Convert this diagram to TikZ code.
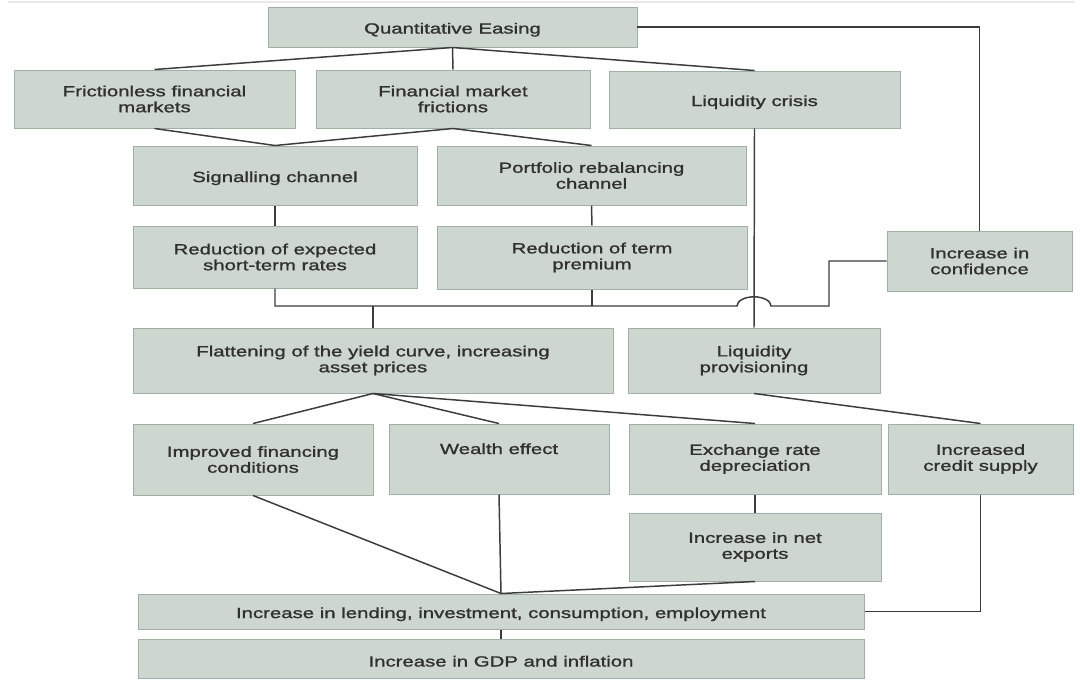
\documentclass[tikz,border=0pt]{standalone}
\usepackage{fontspec}
\setmainfont{Liberation Sans}[FakeStretch=1.38, FakeBold=1.2]
\definecolor{boxfill}{RGB}{205,214,207}
\definecolor{boxline}{RGB}{160,176,165}
\definecolor{wirecol}{RGB}{60,60,60}
\definecolor{txt}{RGB}{48,48,48}
\begin{document}
\begin{tikzpicture}[x=0.025cm, y=-0.025cm,
    qbox/.style 2 args={draw=boxline, fill=boxfill, line width=0.7pt, inner sep=0pt,
        minimum width=#1*0.025cm, minimum height=#2*0.025cm, align=center,
        text=txt, font=\fontsize{10.5}{11.3}\selectfont,
        execute at begin node={\rule{0pt}{11.5pt}}},
    wire/.style={draw=wirecol, line width=1.05pt}]
        \useasboundingbox (0,0) rectangle (1080,687);
        \draw[gray!18, line width=1.5pt] (8,2) -- (1075,2);

        \node[qbox={369}{40}] (qe) at (452.5,27) {Quantitative Easing};
        \node[qbox={281}{58}] (fric) at (154.5,99) {Frictionless financial\\markets};
        \node[qbox={274}{58}] (fmf) at (453,99) {Financial market\\frictions};
        \node[qbox={291}{57}] (liq) at (754.5,99.5) {Liquidity crisis};
        \node[qbox={284}{59}] (sig) at (275,175.5) {Signalling channel};
        \node[qbox={309}{59}] (port) at (591.5,175.5) {Portfolio rebalancing\\channel};
        \node[qbox={284}{62}] (rexp) at (275,257) {Reduction of expected\\short-term rates};
        \node[qbox={310}{63}] (rterm) at (592,257.5) {Reduction of term\\premium};
        \node[qbox={185}{60}] (conf) at (979.5,261) {Increase in\\confidence};
        \node[qbox={480}{65}] (flat) at (373,360.5) {Flattening of the yield curve, increasing\\asset prices};
        \node[qbox={252}{65}] (lprov) at (754,360.5) {Liquidity\\provisioning};
        \node[qbox={240}{71}] (impr) at (253,459.5) {Improved financing\\conditions};
        \node[qbox={220}{70}] (wealth) at (499,459) {Wealth effect\\\strut};
        \node[qbox={252}{70}] (exch) at (755,459) {Exchange rate\\depreciation};
        \node[qbox={185}{70}] (cred) at (980.5,459) {Increased\\credit supply};
        \node[qbox={252}{68}] (nexp) at (755,547) {Increase in net\\exports};
        \node[qbox={726}{35}] (lend) at (501,611.5) {Increase in lending, investment, consumption, employment};
        \node[qbox={726}{39}] (gdp) at (501,658.5) {Increase in GDP and inflation};

        \coordinate (bus) at (373,306);
        \coordinate (hop) at (754,306);
        \coordinate (elbow) at (829,306);

        \draw[wire] (qe.south) -- (fric.north);
        \draw[wire] (qe.south) -- (fmf.north);
        \draw[wire] (qe.south) -- (liq.north);
        \draw[wire] (fric.south) -- (sig.north);
        \draw[wire] (fmf.south) -- (sig.north);
        \draw[wire] (fmf.south) -- (port.north);
        \draw[wire] (sig.south) -- (rexp.north);
        \draw[wire] (port.south) -- (rterm.north);
        \draw[wire] (rexp.south) |- ([xshift=-0.425cm]hop)
            arc[start angle=180, end angle=0, x radius=0.425cm, y radius=0.23cm]
            -- (elbow) |- (conf.west);
        \draw[wire] (rterm.south) -- (rterm.south |- bus);
        \draw[wire] (bus) -- (flat.north);
        \draw[wire] (liq.south) -- (lprov.north);
        \draw[wire] (qe.east) -| (conf.north);
        \draw[wire] (flat.south) -- (impr.north);
        \draw[wire] (flat.south) -- (wealth.north);
        \draw[wire] (flat.south) -- (exch.north);
        \draw[wire] (lprov.south) -- (cred.north);
        \draw[wire] (exch.south) -- (nexp.north);
        \draw[wire] (impr.south) -- (lend.north);
        \draw[wire] (wealth.south) -- (lend.north);
        \draw[wire] (nexp.south) -- (lend.north);
        \draw[wire] (cred.south) |- (lend.east);
        \draw[wire] (lend.south) -- (gdp.north);
    \end{tikzpicture}
\end{document}
